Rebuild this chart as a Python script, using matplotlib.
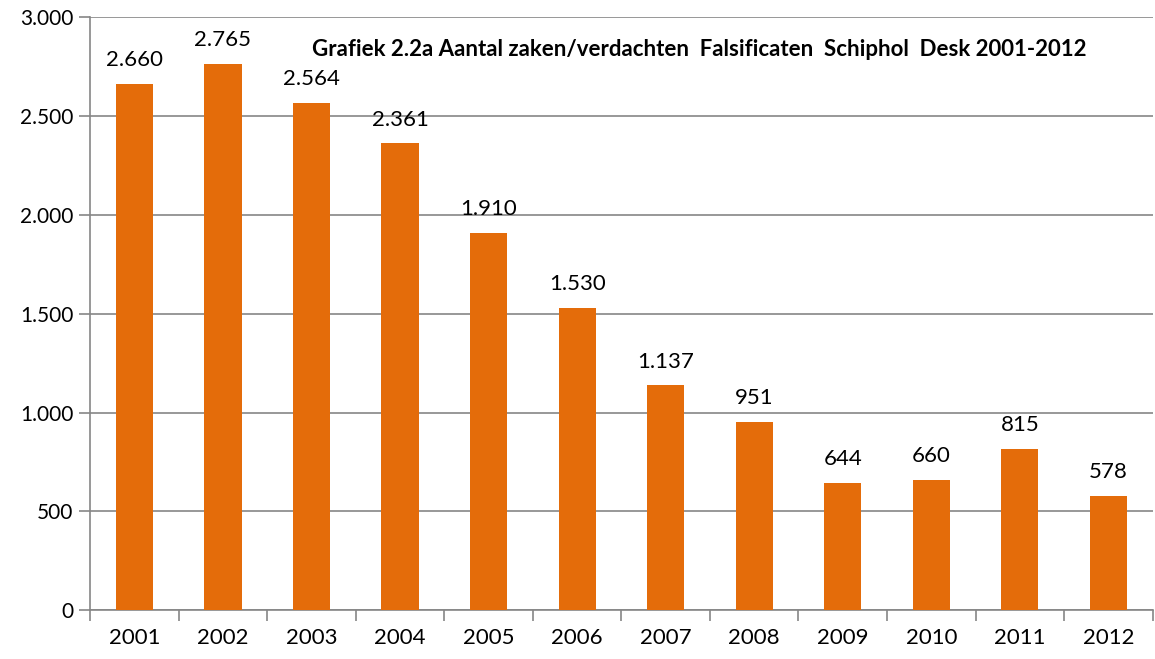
import numpy as np
import matplotlib.pyplot as plt
from matplotlib.ticker import FuncFormatter, FixedLocator

jaren = ['2001', '2002', '2003', '2004', '2005', '2006',
         '2007', '2008', '2009', '2010', '2011', '2012']
aantal = [2660, 2765, 2564, 2361, 1910, 1530, 1137, 951, 644, 660, 815, 578]
titel = 'Grafiek 2.2a Aantal zaken/verdachten  Falsificaten  Schiphol  Desk 2001-2012'

plt.rcParams['font.family'] = ['Lato', 'DejaVu Sans']
grijs = '#868686'

fig = plt.figure(figsize=(11.55, 6.59), dpi=100)
ax = fig.add_axes([0.078, 0.074, 0.92, 0.9])

x = np.arange(len(jaren))
ax.bar(x, aantal, width=0.42, color='#E46C0A', zorder=3)

# labels boven de balken
for xi, v in zip(x, aantal):
    s = '{:,}'.format(v).replace(',', '.')
    ax.annotate(s, (xi, v), xytext=(0, 10), textcoords='offset points',
                ha='center', va='bottom', fontsize=16)

ax.set_xlim(-0.5, len(jaren) - 0.5)
ax.set_ylim(0, 3000)
ax.set_yticks(np.arange(0, 3001, 500))
ax.yaxis.set_major_formatter(FuncFormatter(lambda v, p: '{:,}'.format(int(v)).replace(',', '.')))
ax.grid(axis='y', color=grijs, linewidth=1.2, zorder=0)

ax.set_xticks(x)
ax.set_xticklabels(jaren)
ax.xaxis.set_minor_locator(FixedLocator(np.arange(-0.5, len(jaren), 1)))
ax.tick_params(axis='x', which='major', length=0, pad=13, labelsize=16)
ax.tick_params(axis='x', which='minor', length=8, color=grijs, width=1.2)
ax.tick_params(axis='y', length=8, color=grijs, width=1.2, labelsize=15, pad=4)

for k in ['top', 'right']:
    ax.spines[k].set_visible(False)
for k in ['left', 'bottom']:
    ax.spines[k].set_color(grijs)
    ax.spines[k].set_linewidth(1.2)

ax.text(0.573, 0.945, titel, transform=ax.transAxes, ha='center', va='center',
        fontsize=16, fontweight='bold')

fig.savefig('out.png', dpi=100)
